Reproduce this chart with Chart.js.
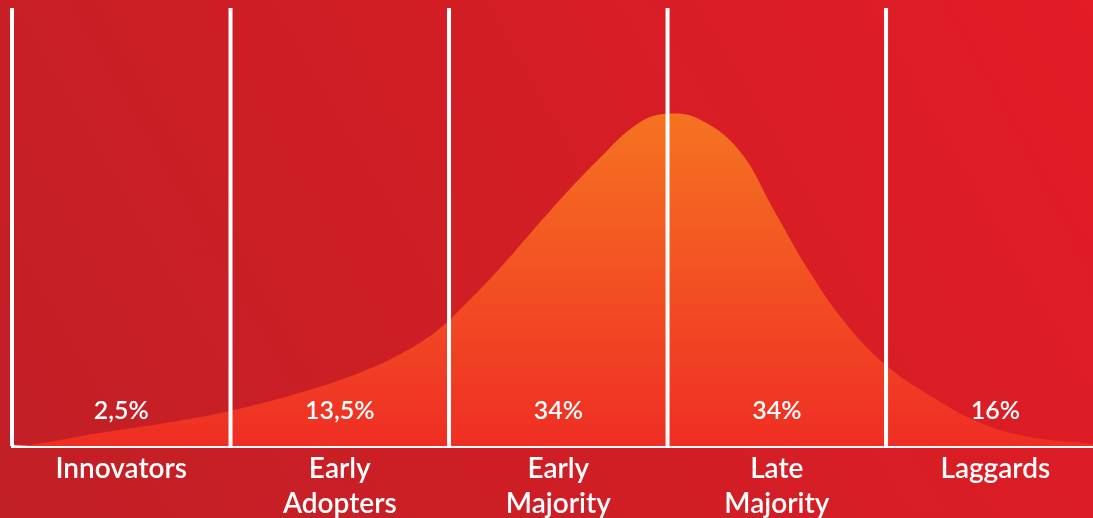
<!DOCTYPE html>
<html>
<head>
<meta charset="utf-8">
<script src="https://cdn.jsdelivr.net/npm/chart.js@4"></script>
<style>
html,body{margin:0;padding:0;width:1093px;height:518px;overflow:hidden;}
body{background:linear-gradient(60deg,#c11f26 0%,#d01e25 45%,#e31c26 100%);}
#wrap{position:relative;width:1093px;height:526px;}
</style>
</head>
<body>
<div id="wrap"><canvas id="c"></canvas></div>
<script>
// Category segments (boundaries at 0,1,2,3,4 on the x axis)
const categories = [["Innovators"], ["Early", "Adopters"], ["Early", "Majority"], ["Late", "Majority"], ["Laggards"]];
const shares = ["2,5%", "13,5%", "34%", "34%", "16%"];
const boundaries = [0, 1, 2, 3, 4];
// Adoption curve (x in segment units, y relative height, peak = 100)
const curveX = [0, 0.1, 0.4, 0.71, 1.0, 1.32, 1.6, 1.8, 1.95, 2.08, 2.23, 2.46, 2.69, 2.87, 3.0, 3.15, 3.33, 3.49, 3.65, 3.81, 3.99, 4.2, 4.43, 4.66, 4.95];
const curveY = [0, 0.5, 3.9, 7.0, 10.6, 16.1, 22.3, 28.5, 35.0, 43.0, 53.3, 70.6, 86.7, 97.3, 100, 98.2, 88.8, 70.6, 52.4, 37.3, 24.8, 15.2, 7.0, 2.7, 0.6];

const X_MAX = 4.947, Y_MAX = 131.8, LABEL_Y = 10.6;

const curveData = curveX.map((x, i) => ({x, y: curveY[i]}));
const lineSets = boundaries.map(b => ({
  data: [{x: b, y: 0}, {x: b, y: Y_MAX}],
  borderColor: '#ffffff', borderWidth: 4, pointRadius: 0, fill: false,
  clip: false, order: 1
}));

const shareLabels = {
  id: 'shareLabels',
  afterDatasetsDraw(chart) {
    const {ctx, scales: {x, y}} = chart;
    ctx.save();
    ctx.fillStyle = '#ffffff';
    ctx.font = '600 25px Lato';
    ctx.textAlign = 'center';
    ctx.textBaseline = 'middle';
    shares.forEach((s, i) => ctx.fillText(s, x.getPixelForValue(boundaries[i] + 0.5), y.getPixelForValue(LABEL_Y)));
    ctx.restore();
  }
};

new Chart(document.getElementById('c'), {
  type: 'line',
  data: {
    datasets: [{
      data: curveData,
      borderWidth: 0,
      borderColor: 'rgba(0,0,0,0)',
      pointRadius: 0,
      tension: 0.4,
      fill: 'origin',
      order: 2,
      backgroundColor(ctx) {
        const ca = ctx.chart.chartArea;
        if (!ca) return '#f0522a';
        const ys = ctx.chart.scales.y;
        const g = ctx.chart.ctx.createLinearGradient(0, ys.getPixelForValue(100), 0, ys.getPixelForValue(0));
        g.addColorStop(0, '#f57321');
        g.addColorStop(1, '#ef2e24');
        return g;
      }
    }, ...lineSets]
  },
  options: {
    responsive: true,
    maintainAspectRatio: false,
    animation: false,
    layout: {padding: {left: 12, top: 8, right: 0, bottom: 0}},
    plugins: {legend: {display: false}, tooltip: {enabled: false}},
    scales: {
      x: {
        type: 'linear', min: 0, max: X_MAX, z: 1,
        grid: {display: false, drawTicks: false},
        border: {display: true, color: '#ffffff', width: 3},
        afterBuildTicks(axis) { axis.ticks = boundaries.map(b => ({value: b + 0.5})); },
        ticks: {
          color: '#ffffff', padding: 5, maxRotation: 0, autoSkip: false,
          font: {family: 'Lato', size: 28, weight: '600', lineHeight: 1.25},
          callback(v) { return categories[Math.floor(v)]; }
        }
      },
      y: {type: 'linear', min: 0, max: Y_MAX, display: false}
    }
  },
  plugins: [shareLabels]
});
</script>
</body>
</html>
